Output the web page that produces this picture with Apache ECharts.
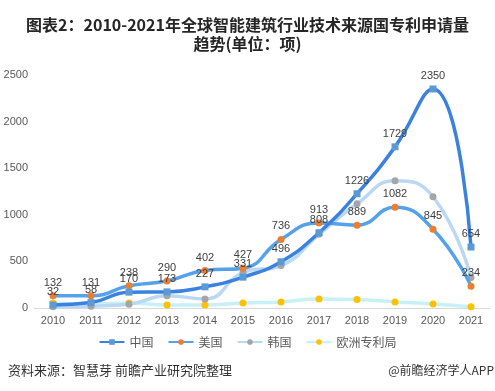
<!DOCTYPE html>
<html><head><meta charset="utf-8">
<script src="https://cdn.jsdelivr.net/npm/echarts@6/dist/echarts.min.js"></script>
<style>html,body{margin:0;padding:0;background:#fff}#c{width:495px;height:391px}</style>
</head><body><div id="c"></div>
<script>
const years = ['2010','2011','2012','2013','2014','2015','2016','2017','2018','2019','2020','2021'];
const china = [32,58,170,173,227,331,496,808,1226,1729,2350,654];
const usa = [132,131,238,290,402,427,736,913,889,1082,845,234];
const korea = [14,20,40,132,97,380,455,790,1118,1366,1194,326];
const epo = [54,43,54,32,32,54,65,97,90,65,43,14];
const yTicks = [0,500,1000,1500,2000,2500];

const chart = echarts.init(document.getElementById('c'));
const font = '"Noto Sans CJK SC", "Liberation Sans", sans-serif';
const lbl = {show:true, position:'top', fontSize:11, color:'#404040', fontFamily:'"Liberation Sans", sans-serif', distance:4};
chart.setOption({
  animation:false,
  textStyle:{fontFamily:font},
  title:{
    text:'图表2：2010-2021年全球智能建筑行业技术来源国专利申请量\n趋势(单位：项)',
    left:'center', top:10,
    textStyle:{fontSize:16, fontWeight:'bold', color:'#262626', lineHeight:19, fontFamily:font}
  },
  graphic:[
    {type:'text', left:8, top:364, style:{text:'资料来源：智慧芽 前瞻产业研究院整理', fill:'#333', font:'13px "Noto Sans CJK SC"'}},
    {type:'text', right:1, top:364, style:{text:'@前瞻经济学人APP', fill:'#333', font:'12px "Noto Sans CJK SC"'}}
  ],
  legend:{
    bottom:38, left:'center', itemWidth:25, itemHeight:7, itemGap:14,
    textStyle:{fontSize:12, color:'#595959', fontFamily:font},
    data:['中国','美国','韩国','欧洲专利局']
  },
  grid:{left:34, right:5, top:75, bottom:83},
  xAxis:{
    type:'category', data:years, boundaryGap:true,
    axisLine:{lineStyle:{color:'#d9d9d9'}}, axisTick:{show:false},
    axisLabel:{fontSize:11, color:'#595959', margin:7, fontFamily:'"Liberation Sans", sans-serif'}
  },
  yAxis:{
    type:'value', min:yTicks[0], max:yTicks[yTicks.length-1], interval:500,
    splitLine:{show:false}, axisLine:{show:false}, axisTick:{show:false},
    axisLabel:{fontSize:11, color:'#595959', margin:6, fontFamily:'"Liberation Sans", sans-serif',
      formatter:function(v){return String(v);}}
  },
  series:[
    {name:'欧洲专利局', type:'line', data:epo, smooth:0.5, symbol:'circle', symbolSize:7, z:2,
      lineStyle:{color:'#c6f1f7', width:3.5}, itemStyle:{color:'#ffc000'}},
    {name:'韩国', type:'line', data:korea, smooth:0.5, symbol:'circle', symbolSize:7, z:3,
      lineStyle:{color:'#bad8f4', width:3.5}, itemStyle:{color:'#a5a5a5'}},
    {name:'美国', type:'line', data:usa, smooth:0.5, symbol:'circle', symbolSize:7, z:4,
      lineStyle:{color:'#55a2ea', width:3.5}, itemStyle:{color:'#ed7d31'}, label:lbl},
    {name:'中国', type:'line', data:china, smooth:0.5, symbol:'rect', symbolSize:7, z:5,
      lineStyle:{color:'#3b82e0', width:3.5}, itemStyle:{color:'#5b9bd5'}, label:lbl}
  ]
});
</script></body></html>
